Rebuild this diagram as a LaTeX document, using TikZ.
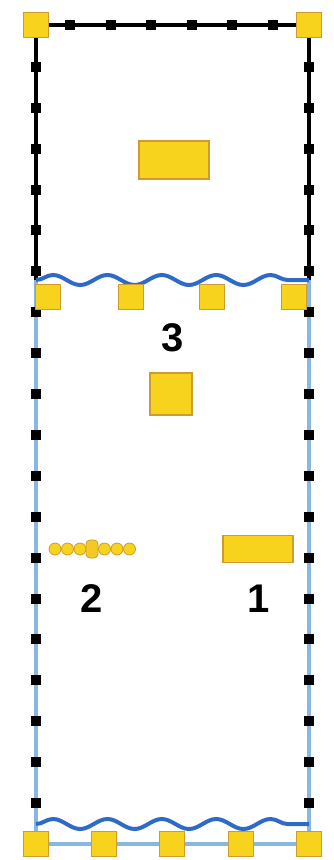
\documentclass[tikz,border=0pt]{standalone}
\usepackage{fontspec}
\setmainfont{Liberation Sans}
\usetikzlibrary{decorations.pathmorphing}
\definecolor{boxfill}{HTML}{F8D31E}
\definecolor{boxedge}{HTML}{CF9A30}
\definecolor{railblue}{HTML}{88B7E2}
\definecolor{waveblue}{HTML}{2F6BC6}

\begin{document}
\begin{tikzpicture}[
    x=1pt, y=-1pt,
    every node/.style={inner sep=0pt},
    tile/.style={draw=boxedge, fill=boxfill, line width=1.5pt, minimum width=25pt, minimum height=25pt},
    block/.style={draw=boxedge, fill=boxfill, line width=1.5pt},
    bead/.style={circle, draw=boxedge, fill=boxfill, line width=0.8pt, minimum size=12pt},
    knot/.style={draw=boxedge, fill=boxfill!85!boxedge, line width=0.8pt, rounded corners=4pt, minimum width=12pt, minimum height=18pt},
    tag/.style={font=\fontsize{40}{40}\selectfont\bfseries},
    frame/.style={line width=4.5pt, black},
    rail/.style={line width=4pt, railblue},
    studs/.style={line width=10pt, black, dash pattern=on 10pt off 30.9pt, dash phase=24.9pt},
    topstuds/.style={line width=10pt, black, dash pattern=on 10pt off 30.6pt, dash phase=11.6pt},
    wave/.style={draw=waveblue, line width=4pt, decorate, decoration={snake, segment length=54.4pt, amplitude=5pt}}
]
\useasboundingbox (0,0) rectangle (333,860);

% corners and ends of the walls
\coordinate (tl) at (36,25);
\coordinate (tr) at (309,25);
\coordinate (wl) at (36,280);
\coordinate (wr) at (309,280);
\coordinate (bl) at (36,824);
\coordinate (br) at (309,824);
\coordinate (sw) at (36,844);
\coordinate (se) at (309,844);

\draw[rail] (wl) -- (sw) -- (se) -- (wr);
\draw[frame] (wl) -- (tl) -- (tr) -- (wr);
\draw[wave] (wl) -- (wr);
\draw[wave] (bl) -- (br);
\draw[studs] (bl) -- (tl);
\draw[studs] (br) -- (tr);
\draw[topstuds] (tl) -- (tr);

\node[tile] (cornerL) at (tl) {};
\node[tile] (cornerR) at (tr) {};
\node[tile] (upper1) at (48,297) {};
\node[tile] (upper2) at (131,297) {};
\node[tile] (upper3) at (212,297) {};
\node[tile] (upper4) at (294,297) {};
\node[tile] (lower1) at (sw) {};
\node[tile] (lower2) at (104,844) {};
\node[tile] (lower3) at (172,844) {};
\node[tile] (lower4) at (241,844) {};
\node[tile] (lower5) at (se) {};

\node[block, minimum width=70pt, minimum height=38pt] (slab) at (174,160) {};
\node[block, minimum width=42pt, minimum height=42pt] (cube) at (171,394) {};
\node[block, minimum width=70pt, minimum height=27pt] (bar) at (258,549) {};

\foreach \i/\x in {1/55,2/67.5,3/80,5/104.5,6/117,7/129.5}
    \node[bead] (bead\i) at (\x,549) {};
\node[knot] (bead4) at (92,549) {};

\node[tag] (three) at (173,338) {3};
\node[tag] (two) at (92,599) {2};
\node[tag] (one) at (259,599) {1};
\end{tikzpicture}
\end{document}
